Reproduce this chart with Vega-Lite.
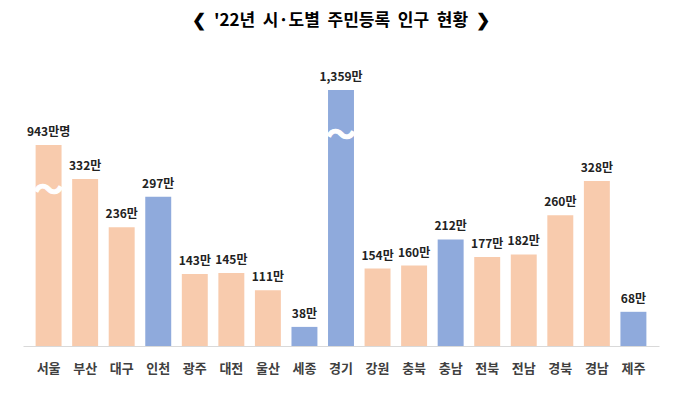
{
  "$schema": "https://vega.github.io/schema/vega-lite/v6.json",
  "autosize": "none",
  "width": 636,
  "height": 286,
  "padding": {"left": 23, "top": 60, "right": 21, "bottom": 51},
  "background": "white",
  "config": {"view": {"stroke": null}, "font": "Noto Sans CJK KR"},
  "title": {
    "text": "❮\u00a0 '22년\u00a0 시·도별\u00a0 주민등록\u00a0 인구\u00a0 현황\u00a0 ❯",
    "fontSize": 17,
    "fontWeight": "bold",
    "font": "Noto Sans CJK KR",
    "color": "#000000",
    "anchor": "middle",
    "offset": 30
  },
  "data": {
    "values": [
      {"region": "서울", "pop": 943, "label": "943만명", "group": "a"},
      {"region": "부산", "pop": 332, "label": "332만", "group": "a"},
      {"region": "대구", "pop": 236, "label": "236만", "group": "a"},
      {"region": "인천", "pop": 297, "label": "297만", "group": "b"},
      {"region": "광주", "pop": 143, "label": "143만", "group": "a"},
      {"region": "대전", "pop": 145, "label": "145만", "group": "a"},
      {"region": "울산", "pop": 111, "label": "111만", "group": "a"},
      {"region": "세종", "pop": 38, "label": "38만", "group": "b"},
      {"region": "경기", "pop": 1359, "label": "1,359만", "group": "b"},
      {"region": "강원", "pop": 154, "label": "154만", "group": "a"},
      {"region": "충북", "pop": 160, "label": "160만", "group": "a"},
      {"region": "충남", "pop": 212, "label": "212만", "group": "b"},
      {"region": "전북", "pop": 177, "label": "177만", "group": "a"},
      {"region": "전남", "pop": 182, "label": "182만", "group": "a"},
      {"region": "경북", "pop": 260, "label": "260만", "group": "a"},
      {"region": "경남", "pop": 328, "label": "328만", "group": "a"},
      {"region": "제주", "pop": 68, "label": "68만", "group": "b"}
    ]
  },
  "encoding": {
    "x": {
      "field": "region",
      "type": "nominal",
      "sort": null,
      "scale": {"paddingInner": 0.29, "paddingOuter": 0.345},
      "axis": {
        "title": null,
        "ticks": false,
        "domainColor": "#d9d9d9",
        "domainWidth": 1,
        "labelAngle": 0,
        "labelFontSize": 13,
        "labelFontWeight": "bold",
        "labelColor": "#404040",
        "labelPadding": 16,
        "labelFont": "Noto Sans CJK KR"
      }
    },
    "y": {
      "field": "pop",
      "type": "quantitative",
      "scale": {"domain": [0, 350, 943, 1359], "range": [286, 110, 85, 30]},
      "axis": null
    }
  },
  "layer": [
    {
      "mark": {"type": "bar"},
      "encoding": {
        "color": {
          "field": "group",
          "type": "nominal",
          "scale": {"domain": ["a", "b"], "range": ["#F8CBAD", "#8FAADC"]},
          "legend": null
        }
      }
    },
    {
      "transform": [{"filter": {"field": "region", "oneOf": ["서울", "경기"]}}],
      "mark": {"type": "text", "text": "～", "color": "white", "stroke": "white", "strokeWidth": 1.2, "fontSize": 30, "fontWeight": "bold", "font": "Noto Sans CJK KR", "baseline": "middle", "dy": 46}
    },
    {
      "mark": {"type": "text", "baseline": "bottom", "dy": -6, "fontSize": 12, "fontWeight": "bold", "color": "#222222", "font": "Noto Sans CJK KR"},
      "encoding": {"text": {"field": "label"}}
    }
  ]
}
